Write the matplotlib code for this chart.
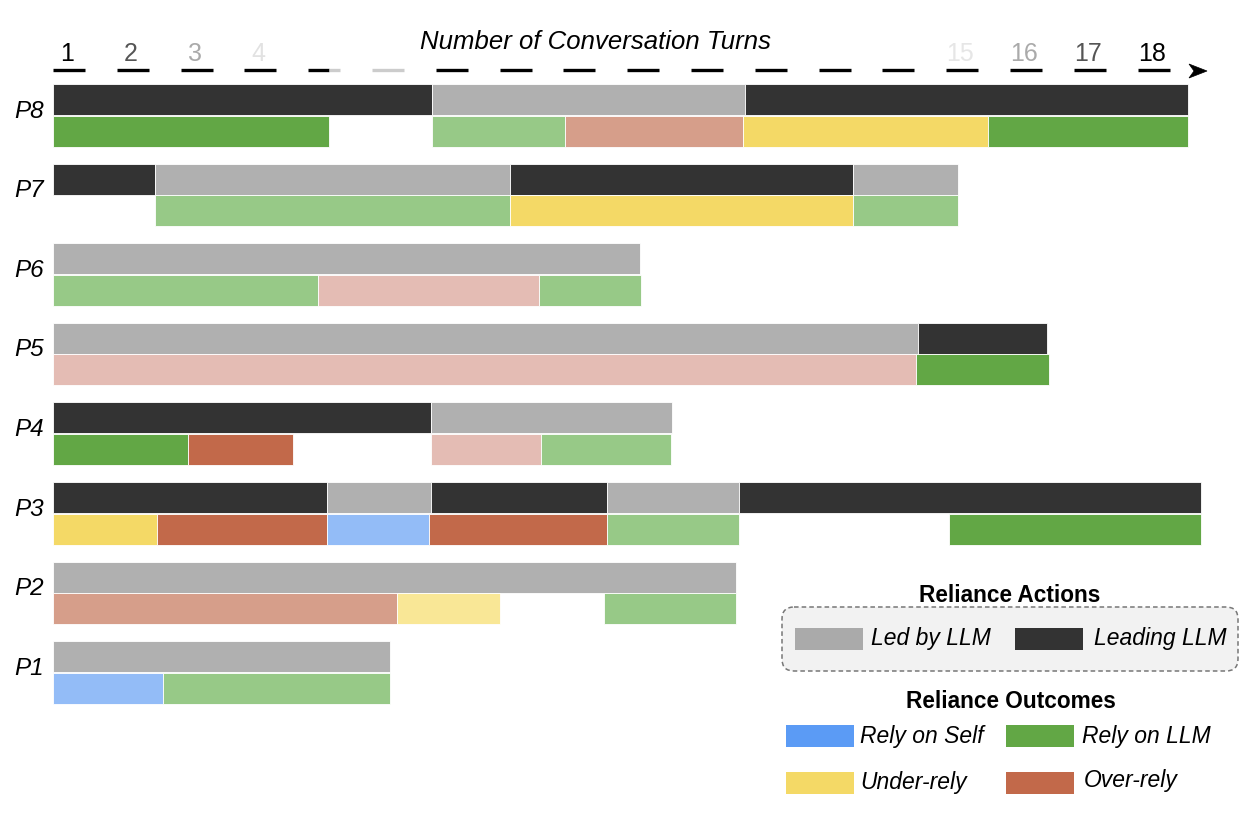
import matplotlib
matplotlib.use('Agg')
import matplotlib.pyplot as plt
from matplotlib.patches import Rectangle, FancyBboxPatch, Polygon

plt.rcParams['font.family'] = ['Liberation Sans', 'DejaVu Sans']

# segments in conversation turns: (start, end, kind)
participants = ['P8', 'P7', 'P6', 'P5', 'P4', 'P3', 'P2', 'P1']

actions = {
    'P8': [(0, 5.94, 'lead'), (5.94, 10.85, 'led'), (10.85, 17.79, 'lead')],
    'P7': [(0, 1.60, 'lead'), (1.60, 7.16, 'led'), (7.16, 12.54, 'lead'), (12.54, 14.18, 'led')],
    'P6': [(0, 9.20, 'led')],
    'P5': [(0, 13.56, 'led'), (13.56, 15.58, 'lead')],
    'P4': [(0, 5.92, 'lead'), (5.92, 9.70, 'led')],
    'P3': [(0, 4.29, 'lead'), (4.29, 5.92, 'led'), (5.92, 8.68, 'lead'), (8.68, 10.75, 'led'),
           (10.75, 17.99, 'lead')],
    'P2': [(0, 10.71, 'led')],
    'P1': [(0, 5.28, 'led')],
}

outcomes = {
    'P8': [(0, 4.33, 'llm'), (5.94, 8.03, 'llm_l'), (8.03, 10.82, 'over_m'),
           (10.82, 14.66, 'under'), (14.66, 17.79, 'llm')],
    'P7': [(1.60, 7.16, 'llm_l'), (7.16, 12.54, 'under'), (12.54, 14.18, 'llm_l')],
    'P6': [(0, 4.15, 'llm_l'), (4.15, 7.62, 'over_l'), (7.62, 9.22, 'llm_l')],
    'P5': [(0, 13.53, 'over_l'), (13.53, 15.61, 'llm')],
    'P4': [(0, 2.12, 'llm'), (2.12, 3.76, 'over'), (5.92, 7.65, 'over_l'), (7.65, 9.69, 'llm_l')],
    'P3': [(0, 1.63, 'under'), (1.63, 4.29, 'over'), (4.29, 5.89, 'self_l'), (5.89, 8.68, 'over'),
           (8.68, 10.75, 'llm_l'), (14.04, 17.99, 'llm')],
    'P2': [(0, 5.39, 'over_m'), (5.39, 7.01, 'under_l'), (8.64, 10.71, 'llm_l')],
    'P1': [(0, 1.72, 'self_l'), (1.72, 5.28, 'llm_l')],
}

turn_labels = ['1', '2', '3', '4', '15', '16', '17', '18']
turn_label_pos = [0, 1, 2, 3, 14, 15, 16, 17]
turn_label_colors = ['#000000', '#555555', '#aaaaaa', '#e2e2e2', '#e6e6e6', '#aaaaaa', '#555555', '#000000']

colors = {
    'lead': '#333333', 'led': '#b0b0b0',
    'llm': '#62a745', 'llm_l': '#97c987',
    'over': '#c2694a', 'over_m': '#d69e8a', 'over_l': '#e4bcb4',
    'under': '#f4d966', 'under_l': '#f9e796',
    'self_l': '#93bcf7',
}

unit = 63.8
x0 = 53
W, H = 1255, 837

fig = plt.figure(figsize=(12.55, 8.37), dpi=100)
ax = fig.add_axes([0, 0, 1, 1])
ax.set_xlim(-x0 / unit, (W - x0) / unit)
ax.set_ylim(H, 0)
ax.axis('off')

# overlay in pixel coords for annotations/legend
ax2 = fig.add_axes([0, 0, 1, 1])
ax2.set_xlim(0, W)
ax2.set_ylim(H, 0)
ax2.axis('off')
ax2.patch.set_alpha(0)

bar_h = 31
row_gap = 79.6
for i, p in enumerate(participants):
    top = 85 + i * row_gap
    for s, e, k in actions[p]:
        ax.barh(top + bar_h / 2, e - s, left=s, height=bar_h, color=colors[k],
                edgecolor='white', linewidth=0.6)
    for s, e, k in outcomes[p]:
        ax.barh(top + bar_h + 0.5 + bar_h / 2, e - s, left=s, height=bar_h, color=colors[k],
                edgecolor='white', linewidth=0.6)
    ax2.text(44, top + 26, p, ha='right', va='center', fontsize=17.5, style='italic')

# turn axis (dashes)
for k in range(18):
    if k == 4:
        ax.hlines(71, k, k + 0.33, color='black', lw=2.4)
        ax.hlines(71, k + 0.33, k + 0.5, color='#cccccc', lw=2.4)
    elif k == 5:
        ax.hlines(71, k, k + 0.5, color='#cccccc', lw=2.4)
    else:
        ax.hlines(71, k, k + 0.5, color='black', lw=2.4)

for lab, pos, c in zip(turn_labels, turn_label_pos, turn_label_colors):
    ax.text(pos + 0.22, 66, lab, ha='center', va='bottom', fontsize=18, color=c)

ax2.add_patch(Polygon([(1189, 65), (1207, 72), (1189, 79), (1194, 72)], closed=True,
                      facecolor='black', edgecolor='black', lw=0.5))
ax2.text(596, 42, 'Number of Conversation Turns', ha='center', va='center',
         fontsize=18.5, style='italic')

# legend
ax2.text(1010, 595, 'Reliance Actions', ha='center', va='center', fontsize=16.3, weight='bold')
ax2.add_patch(FancyBboxPatch((782, 608), 456, 64, boxstyle='round,pad=0,rounding_size=12',
                             facecolor='#f2f2f2', edgecolor='#777777', lw=1.1, ls=(0, (3, 2))))
ax2.add_patch(Rectangle((795, 629), 68, 22, facecolor='#aaaaaa', edgecolor='none'))
ax2.text(871, 639, 'Led by LLM', ha='left', va='center', fontsize=16.5, style='italic')
ax2.add_patch(Rectangle((1015, 629), 68, 22, facecolor='#333333', edgecolor='none'))
ax2.text(1094, 639, 'Leading LLM', ha='left', va='center', fontsize=16.5, style='italic')

ax2.text(1011, 702, 'Reliance Outcomes', ha='center', va='center', fontsize=16.3, weight='bold')
outcome_legend = [
    (786, 726, '#5b9bf5', 'Rely on Self', 860, 737),
    (1006, 726, '#62a745', 'Rely on LLM', 1082, 737),
    (786, 773, '#f4d966', 'Under-rely', 860, 783),
    (1006, 773, '#c2694a', 'Over-rely', 1084, 781),
]
for rx, ry, c, lab, tx, ty in outcome_legend:
    ax2.add_patch(Rectangle((rx, ry), 68, 22, facecolor=c, edgecolor='none'))
    ax2.text(tx, ty, lab, ha='left', va='center', fontsize=16.5, style='italic')

plt.savefig('out.png', dpi=100)
plt.close()
